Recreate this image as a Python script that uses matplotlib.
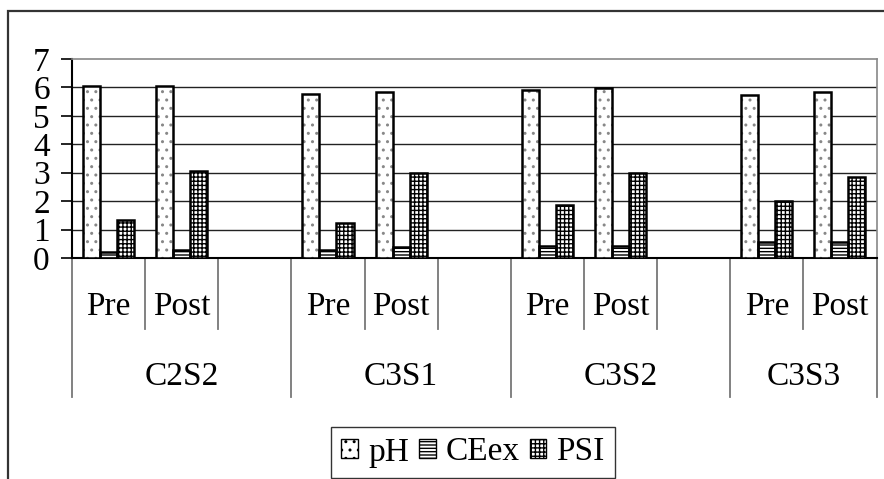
import matplotlib
matplotlib.use("Agg")
import matplotlib.pyplot as plt
import matplotlib.transforms as mtransforms
from matplotlib.patches import Rectangle, Patch
import numpy as np

plt.rcParams['font.family'] = ['Liberation Serif', 'DejaVu Serif']
plt.rcParams['hatch.linewidth'] = 1.0

# data: soil samples, before (Pre) and after (Post)
groups = ['C2S2', 'C3S1', 'C3S2', 'C3S3']
stages = ['Pre', 'Post']
ph = [6.05, 6.05, 5.78, 5.85, 5.91, 5.99, 5.72, 5.84]
ceex = [0.21, 0.29, 0.28, 0.37, 0.43, 0.43, 0.58, 0.58]
psi = [1.33, 3.07, 1.24, 3.00, 1.86, 2.99, 2.02, 2.86]
series_names = ['pH', 'CEex', 'PSI']

# category slots: Pre, Post and a blank spacer between groups
slot_labels = []
for gi, g in enumerate(groups):
    slot_labels += stages
    if gi < len(groups) - 1:
        slot_labels.append('')
n_slots = len(slot_labels)
data_slots = [i for i, s in enumerate(slot_labels) if s]

FS = 24
W, H = 884, 479
fig = plt.figure(figsize=(W / 100, H / 100), dpi=100)
ax = fig.add_axes([72 / W, 1 - 258 / H, (876.5 - 72) / W, (258 - 59) / H])

styles = [
    dict(hatch='..', hcolor='#888888'),
    dict(hatch='-----', hcolor='black'),
    dict(hatch='++++', hcolor='black'),
]
width = 0.233
centers = np.array(data_slots) + 0.5
for k, (vals, st) in enumerate(zip([ph, ceex, psi], styles)):
    x = centers + (k - 1) * width
    ax.bar(x, vals, width, color='white', edgecolor=st['hcolor'],
           hatch=st['hatch'], linewidth=0, zorder=3)
    ax.bar(x, vals, width, fill=False, edgecolor='black', linewidth=1.8, zorder=4)

ax.set_xlim(0, n_slots)
ax.set_ylim(0, 7)
ax.set_yticks(range(8))
ax.tick_params(axis='y', labelsize=FS, length=8, width=1.2, pad=8, direction='out')
ax.set_xticks([])
for y in range(1, 7):
    ax.axhline(y, color='#222222', lw=1.0, zorder=1)

ax.spines['left'].set_linewidth(1.5)
ax.spines['bottom'].set_linewidth(1.5)
ax.spines['top'].set_color('#888888')
ax.spines['right'].set_color('#888888')
ax.spines['top'].set_linewidth(1.2)
ax.spines['right'].set_linewidth(1.2)

# hierarchical category axis
trans = mtransforms.blended_transform_factory(ax.transData, ax.transAxes)
y_stage = (258 - 307) / 199
y_group = (258 - 377) / 199
y_tick_end = (258 - 329) / 199
y_group_end = (258 - 397) / 199

group_edges = [0]
for i, s in enumerate(slot_labels):
    if s == '':
        group_edges.append(i + 1)
group_edges.append(n_slots)

for b in range(n_slots + 1):
    end = y_group_end if b in group_edges else y_tick_end
    ax.plot([b, b], [0, end], color='#777777', lw=1.3, transform=trans, clip_on=False)

for i, s in enumerate(slot_labels):
    if s:
        ax.text(i + 0.5, y_stage, s, transform=trans, ha='center', va='center',
                fontsize=FS)

for gi, g in enumerate(groups):
    start = group_edges[gi]
    end = group_edges[gi + 1]
    ax.text((start + end) / 2, y_group, g, transform=trans, ha='center',
            va='center', fontsize=FS)

handles = [Patch(facecolor='white', edgecolor='black', hatch=st['hatch'], lw=1.0)
           for st in styles]
leg = fig.legend(handles, series_names, loc='upper center',
                 bbox_to_anchor=(473 / W, 1 - 427 / H), ncol=3, fontsize=FS,
                 frameon=True, fancybox=False, handlelength=0.5,
                 handleheight=0.5, handletextpad=0.3, columnspacing=0.3,
                 borderpad=0.3, borderaxespad=0)
leg.get_frame().set_edgecolor('black')
leg.get_frame().set_linewidth(1.0)

# outer chart frame
fig.patches.append(Rectangle((8 / W, -0.1), 1.2, 1.1 - 11 / H,
                             transform=fig.transFigure, fill=False,
                             edgecolor='#333333', lw=1.6))

fig.savefig('out.png', dpi=100)
